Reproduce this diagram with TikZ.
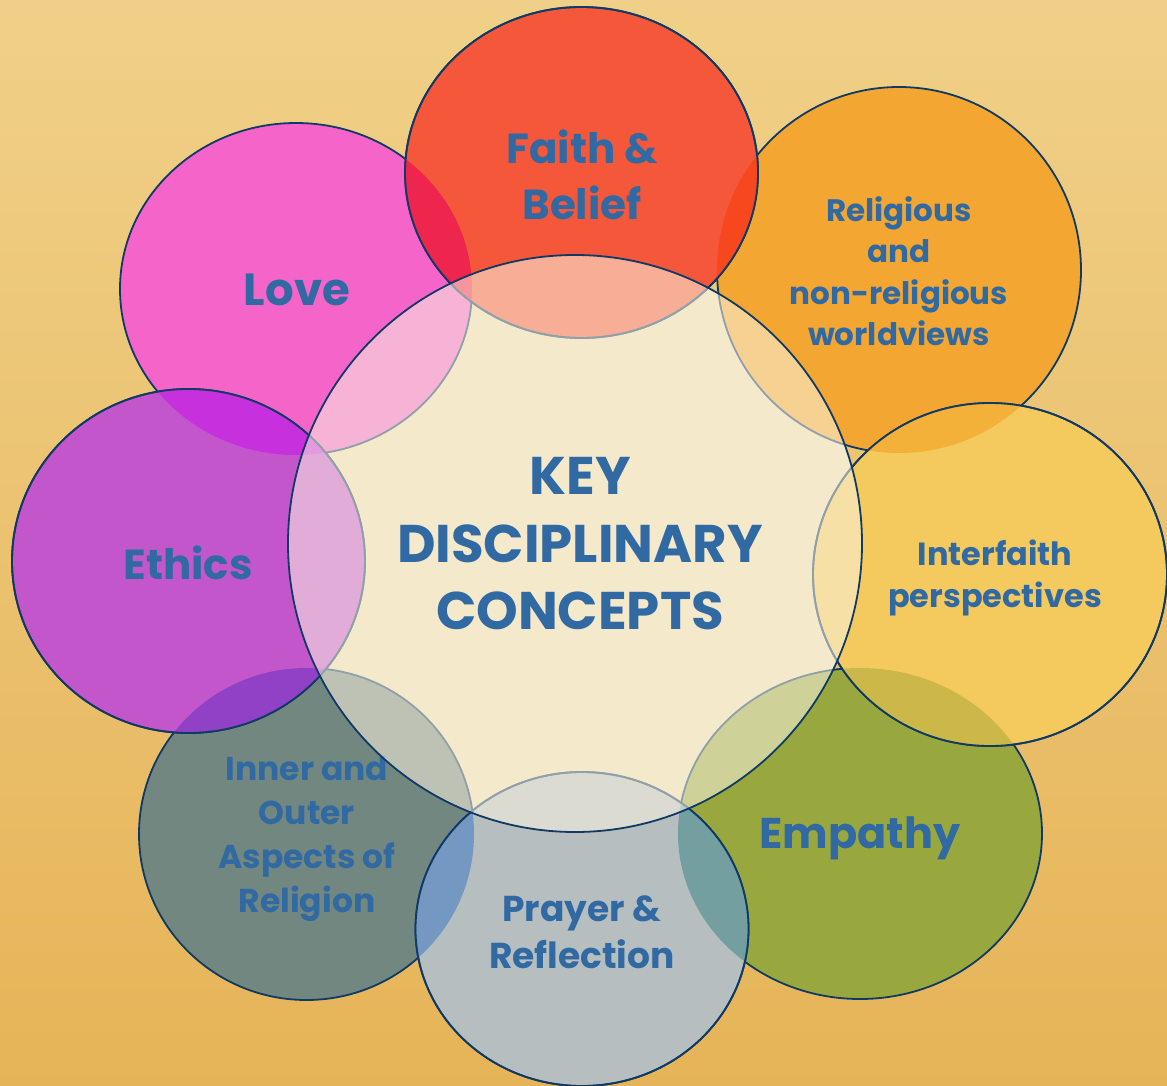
\documentclass[tikz,border=0pt]{standalone}
\usepackage{fontspec}
\setmainfont{Poppins}
\usetikzlibrary{positioning}

\definecolor{rim}{HTML}{0F3A66}
\definecolor{ink}{HTML}{3169A3}
\definecolor{papertop}{HTML}{F0D088}
\definecolor{paperbottom}{HTML}{E6B458}
\definecolor{cream}{HTML}{FBF4E2}
\definecolor{hubbase}{HTML}{EEDDB2}
\definecolor{faithred}{HTML}{F5573A}
\definecolor{worldorange}{HTML}{F3A732}
\definecolor{interyellow}{HTML}{F4C95E}
\definecolor{empathygreen}{HTML}{98A83E}
\definecolor{prayergrey}{HTML}{B7BEBF}
\definecolor{innerslate}{HTML}{72877F}
\definecolor{ethicspurple}{HTML}{C456CC}
\definecolor{lovepink}{HTML}{F464C9}
% lens colours where two petals overlap
\definecolor{lovefaith}{HTML}{EE1F4F}
\definecolor{faithworld}{HTML}{F8451C}
\definecolor{worldinter}{HTML}{F4AE35}
\definecolor{interempathy}{HTML}{C6B646}
\definecolor{empathyprayer}{HTML}{6B9B9C}
\definecolor{prayerinner}{HTML}{6B93C3}
\definecolor{innerethics}{HTML}{8B3FC6}
\definecolor{ethicslove}{HTML}{C72BE0}

% petal outlines
\def\loveshape{(296,289) ellipse [x radius=176pt, y radius=166pt]}
\def\faithshape{(581.5,172.5) ellipse [x radius=176.5pt, y radius=165.5pt]}
\def\worldshape{(899,270) ellipse [x radius=182pt, y radius=183pt]}
\def\intershape{(990,574.5) ellipse [x radius=177pt, y radius=171.5pt]}
\def\empathyshape{(860,833.5) ellipse [x radius=182pt, y radius=165.5pt]}
\def\prayershape{(582,929) ellipse [x radius=166.5pt, y radius=157pt]}
\def\innershape{(306.5,834) ellipse [x radius=167.5pt, y radius=166pt]}
\def\ethicsshape{(188.5,561) ellipse [x radius=176.5pt, y radius=172pt]}
\def\keyshape{(575,543.5) ellipse [x radius=287pt, y radius=288.5pt]}

\tikzset{
  petal/.style={draw=rim, line width=1.8pt},
  lens/.style={fill opacity=0.88},
  rimline/.style={draw=rim, line width=1.8pt},
  hub/.style={draw=rim, line width=1.8pt, fill=cream, fill opacity=0.55},
  caption/.style={text=ink, align=center, inner sep=0pt},
  bigword/.style={caption, font=\bfseries\fontsize{42}{56}\selectfont},
  smallword/.style={caption, font=\bfseries\fontsize{31}{41.5}\selectfont},
}

\begin{document}
\begin{tikzpicture}[x=1pt,y=-1pt]
\useasboundingbox (0,0) rectangle (1167,1086);
\clip (0,0) rectangle (1167,1086);
\shade[top color=papertop, bottom color=paperbottom] (0,0) rectangle (1167,1086);
\fill[hubbase] \keyshape;

% lower ring of petals
\filldraw[petal, fill=lovepink] \loveshape;
\filldraw[petal, fill=worldorange] \worldshape;
\filldraw[petal, fill=empathygreen] \empathyshape;
\filldraw[petal, fill=innerslate] \innershape;

% upper ring of petals
\filldraw[petal, fill=faithred] \faithshape;
\filldraw[petal, fill=ethicspurple] \ethicsshape;
\filldraw[petal, fill=prayergrey] \prayershape;
\filldraw[petal, fill=interyellow] \intershape;

% overlaps
\begin{scope} \clip \faithshape; \fill[lens, lovefaith] \loveshape; \end{scope}
\begin{scope} \clip \faithshape; \fill[lens, faithworld] \worldshape; \end{scope}
\begin{scope} \clip \intershape; \fill[lens, worldinter] \worldshape; \end{scope}
\begin{scope} \clip \intershape; \fill[lens, interempathy] \empathyshape; \end{scope}
\begin{scope} \clip \prayershape; \fill[lens, empathyprayer] \empathyshape; \end{scope}
\begin{scope} \clip \prayershape; \fill[lens, prayerinner] \innershape; \end{scope}
\begin{scope} \clip \ethicsshape; \fill[lens, innerethics] \innershape; \end{scope}
\begin{scope} \clip \ethicsshape; \fill[lens, ethicslove] \loveshape; \end{scope}
\draw[rimline] \faithshape \ethicsshape \prayershape \intershape;

% petal captions
\node[bigword, font=\bfseries\fontsize{45}{56}\selectfont] (love) at (297,290) {Love};
\node[bigword] (faith) at (582,175) {Faith \&\\Belief};
\node[smallword] (worldviews) at (899,271) {Religious\\and\\non-religious\\worldviews};
\node[smallword, font=\bfseries\fontsize{32}{42}\selectfont] (interfaith) at (995,578) {Interfaith\\perspectives};
\node[bigword, font=\bfseries\fontsize{43}{56}\selectfont] (empathy) at (860,838) {Empathy};
\node[caption, font=\bfseries\fontsize{36}{47}\selectfont] (prayer) at (582,932) {Prayer \&\\Reflection};
\node[caption, font=\bfseries\fontsize{33}{44}\selectfont] (inner) at (307,839) {Inner and\\Outer\\Aspects of\\Religion};
\node[bigword] (ethics) at (188,563) {Ethics};

% centre
\filldraw[hub] \keyshape;
\node[caption, font=\bfseries\fontsize{53}{67.5}\selectfont] (key) at (580,544)
  {KEY\\DISCIPLINARY\\CONCEPTS};
\end{tikzpicture}
\end{document}
